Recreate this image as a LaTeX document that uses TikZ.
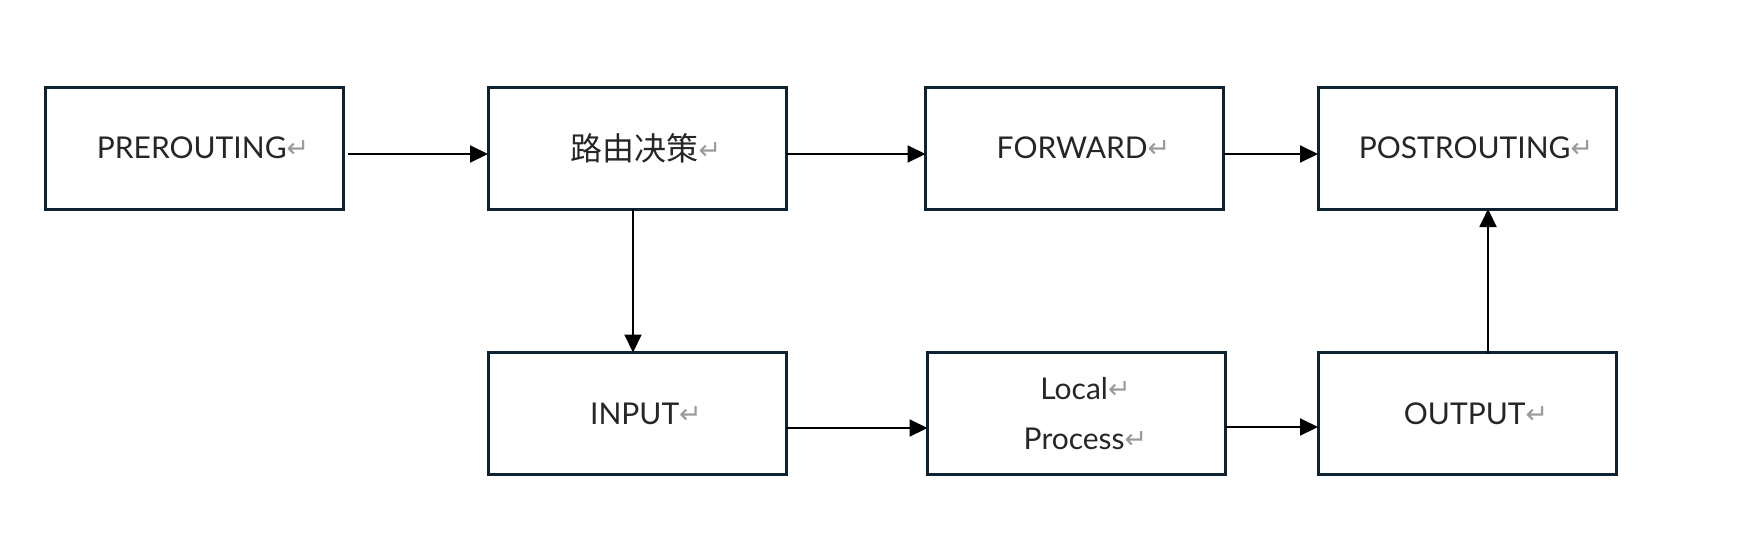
\documentclass[tikz,border=0pt]{standalone}
\usepackage{fontspec}
\setmainfont{Lato}
\newfontfamily\cjk{Noto Sans CJK SC}
\newfontfamily\dv{DejaVu Sans}
\usetikzlibrary{arrows.meta}
\definecolor{boxline}{HTML}{0D2331}
\definecolor{retgray}{HTML}{9A9A9A}
\newcommand{\retmark}{{\dv\fontsize{27}{27}\selectfont\color{retgray}\raisebox{1pt}{↵}}}
\newcommand{\lbl}[1]{\hspace*{18pt}#1\retmark}
\begin{document}
\begin{tikzpicture}[x=1pt,y=-1pt,
  stagebox/.style={draw=boxline, line width=3pt, fill=white, minimum width=298pt,
    minimum height=122pt, inner sep=0pt, outer sep=0pt, align=center,
    font=\fontsize{30}{50}\selectfont, text=black!85},
  flow/.style={draw=black, line width=2pt, -{Triangle[length=18pt,width=17pt]}}]
\useasboundingbox (0,0) rectangle (1739,542);
\fill[white] (0,0) rectangle (1739,542);
\node[stagebox] (pre)    at (194,148)   {\lbl{PREROUTING}};
\node[stagebox] (route)  at (637,148)   {\hspace*{18pt}{\cjk\fontsize{32}{32}\selectfont 路由决策}\retmark};
\node[stagebox] (fwd)    at (1074.5,148) {\lbl{FORWARD}};
\node[stagebox] (post)   at (1467,148)  {\lbl{POSTROUTING}};
\node[stagebox] (input)  at (637,413.5) {\lbl{INPUT}};
\node[stagebox] (local)  at (1076.5,413.5) {\lbl{Local}\\\lbl{Process}};
\node[stagebox] (output) at (1467,413.5) {\lbl{OUTPUT}};
\draw[flow, shorten <=5pt] ([yshift=-6pt]pre.east) -- ([yshift=-6pt]route.west);
\draw[flow] ([yshift=-6pt]route.east) -- ([yshift=-6pt]fwd.west);
\draw[flow] ([yshift=-6pt]fwd.east) -- ([yshift=-6pt]post.west);
\draw[flow] ([xshift=-4pt]route.south) -- ([xshift=-4pt]input.north);
\draw[flow] ([yshift=-14.5pt]input.east) -- ([yshift=-14.5pt]local.west);
\draw[flow] ([yshift=-13.5pt]local.east) -- ([yshift=-13.5pt]output.west);
\draw[flow] ([xshift=21pt]output.north) -- ([xshift=21pt]post.south);
\end{tikzpicture}
\end{document}
